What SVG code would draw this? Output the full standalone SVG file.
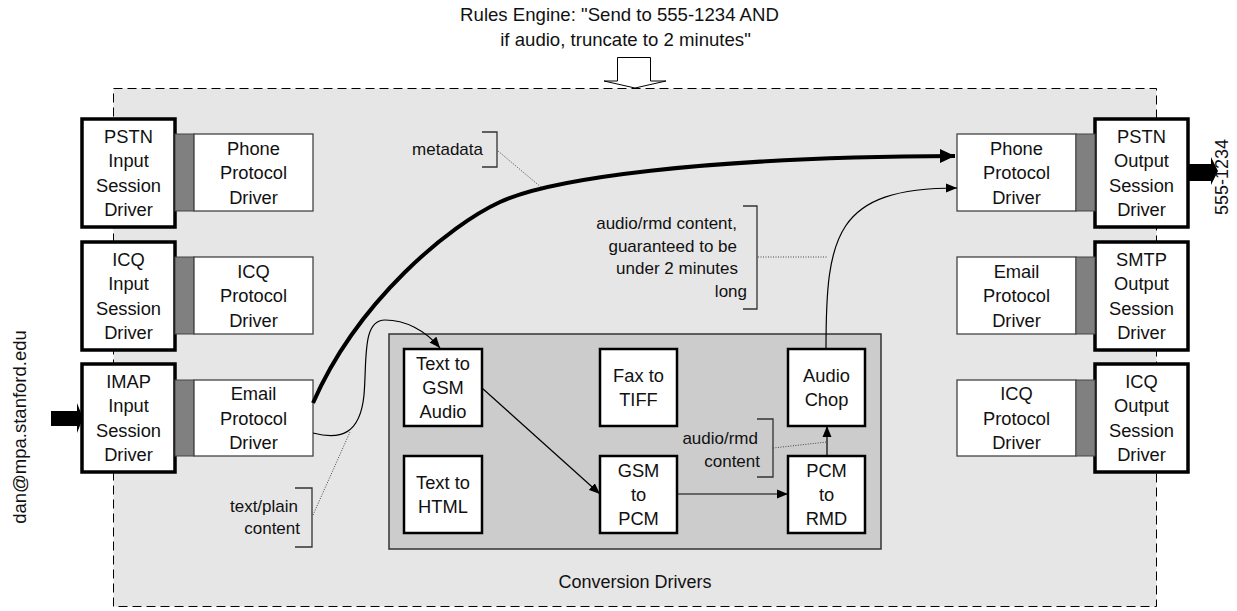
<svg xmlns="http://www.w3.org/2000/svg" width="1237" height="611" viewBox="0 0 1237 611">
<style>
text{font-family:"Liberation Sans",Arial,sans-serif;fill:#111}
.n{font-size:18.3px;text-anchor:middle}
.l{font-size:17px;text-anchor:end}
.sess{fill:#fff;stroke:#000;stroke-width:3.5}
.prot{fill:#fff;stroke:#444;stroke-width:1.3}
.gray{fill:#808080;stroke:#444;stroke-width:1}
.conv{fill:#fff;stroke:#000;stroke-width:2.5}
.thin{fill:none;stroke:#000;stroke-width:1.2}
.thick{fill:none;stroke:#000;stroke-width:4}
.dot{fill:none;stroke:#333;stroke-width:0.9;stroke-dasharray:1 1.5}
.br{fill:none;stroke:#333;stroke-width:1.3}
</style>
<defs>
<marker id="ah" markerUnits="userSpaceOnUse" markerWidth="12" markerHeight="10" refX="11" refY="5" orient="auto"><path d="M0,0.5 L11,5 L0,9.5 Z" fill="#000"/></marker>
<marker id="ahb" markerUnits="userSpaceOnUse" markerWidth="16" markerHeight="16" refX="15" refY="8" orient="auto"><path d="M0,1 L15,8 L0,15 Z" fill="#000"/></marker>
</defs>
<rect width="1237" height="611" fill="#fff"/>
<g id="title">
<text x="619.5" y="21" font-size="18.6" text-anchor="middle">Rules Engine: "Send to 555-1234 AND</text>
<text x="625.5" y="46" font-size="18.6" text-anchor="middle">if audio, truncate to 2 minutes"</text>
</g>
<g id="container">
<rect x="113.5" y="88.5" width="1043" height="518" fill="#e6e6e6" stroke="#000" stroke-width="1" stroke-dasharray="9 5"/>
</g>
<g id="rules-arrow">
<polygon points="617.5,57.5 650.5,57.5 650.5,81 666,81 635,88 604,81 617.5,81" fill="#fff" stroke="#000" stroke-width="1"/>
</g>
<g id="conversion-drivers">
<rect x="389" y="334" width="492" height="215" fill="#cccccc" stroke="#333" stroke-width="1.5"/>
<text x="635" y="588" font-size="18" text-anchor="middle">Conversion Drivers</text>
</g>
<g id="pstn-input">
<rect class="sess" x="82" y="119" width="93" height="108"/>
<text class="n" x="128.5" y="142.5">PSTN<tspan x="128.5" dy="24.5">Input</tspan><tspan x="128.5" dy="24.5">Session</tspan><tspan x="128.5" dy="24.5">Driver</tspan></text>
</g>
<g id="phone-protocol-in">
<rect class="gray" x="175" y="134" width="19" height="77"/>
<rect class="prot" x="194" y="134" width="119" height="77"/>
<text class="n" x="253.5" y="154.5">Phone<tspan x="253.5" dy="24.5">Protocol</tspan><tspan x="253.5" dy="24.5">Driver</tspan></text>
</g>
<g id="icq-input">
<rect class="sess" x="82" y="242" width="93" height="108"/>
<text class="n" x="128.5" y="265.5">ICQ<tspan x="128.5" dy="24.5">Input</tspan><tspan x="128.5" dy="24.5">Session</tspan><tspan x="128.5" dy="24.5">Driver</tspan></text>
</g>
<g id="icq-protocol-in">
<rect class="gray" x="175" y="257" width="19" height="77"/>
<rect class="prot" x="194" y="257" width="119" height="77"/>
<text class="n" x="253.5" y="277.5">ICQ<tspan x="253.5" dy="24.5">Protocol</tspan><tspan x="253.5" dy="24.5">Driver</tspan></text>
</g>
<g id="imap-input">
<rect class="sess" x="82" y="364" width="93" height="108"/>
<text class="n" x="128.5" y="387.5">IMAP<tspan x="128.5" dy="24.5">Input</tspan><tspan x="128.5" dy="24.5">Session</tspan><tspan x="128.5" dy="24.5">Driver</tspan></text>
</g>
<g id="email-protocol-in">
<rect class="gray" x="175" y="380" width="19" height="76"/>
<rect class="prot" x="194" y="380" width="119" height="76"/>
<text class="n" x="253.5" y="400">Email<tspan x="253.5" dy="24.5">Protocol</tspan><tspan x="253.5" dy="24.5">Driver</tspan></text>
</g>
<g id="pstn-output">
<rect class="sess" x="1095" y="119" width="93" height="108"/>
<text class="n" x="1141.5" y="142.5">PSTN<tspan x="1141.5" dy="24.5">Output</tspan><tspan x="1141.5" dy="24.5">Session</tspan><tspan x="1141.5" dy="24.5">Driver</tspan></text>
</g>
<g id="phone-protocol-out">
<rect class="prot" x="957" y="134" width="119" height="77"/>
<rect class="gray" x="1076" y="134" width="19" height="77"/>
<text class="n" x="1016.5" y="154.5">Phone<tspan x="1016.5" dy="24.5">Protocol</tspan><tspan x="1016.5" dy="24.5">Driver</tspan></text>
</g>
<g id="smtp-output">
<rect class="sess" x="1095" y="242" width="93" height="108"/>
<text class="n" x="1141.5" y="265.5">SMTP<tspan x="1141.5" dy="24.5">Output</tspan><tspan x="1141.5" dy="24.5">Session</tspan><tspan x="1141.5" dy="24.5">Driver</tspan></text>
</g>
<g id="email-protocol-out">
<rect class="prot" x="957" y="257" width="119" height="77"/>
<rect class="gray" x="1076" y="257" width="19" height="77"/>
<text class="n" x="1016.5" y="277.5">Email<tspan x="1016.5" dy="24.5">Protocol</tspan><tspan x="1016.5" dy="24.5">Driver</tspan></text>
</g>
<g id="icq-output">
<rect class="sess" x="1095" y="364" width="93" height="108"/>
<text class="n" x="1141.5" y="387.5">ICQ<tspan x="1141.5" dy="24.5">Output</tspan><tspan x="1141.5" dy="24.5">Session</tspan><tspan x="1141.5" dy="24.5">Driver</tspan></text>
</g>
<g id="icq-protocol-out">
<rect class="prot" x="957" y="380" width="119" height="76"/>
<rect class="gray" x="1076" y="380" width="19" height="76"/>
<text class="n" x="1016.5" y="400">ICQ<tspan x="1016.5" dy="24.5">Protocol</tspan><tspan x="1016.5" dy="24.5">Driver</tspan></text>
</g>
<g id="text-to-gsm">
<rect class="conv" x="404" y="349" width="78" height="77"/>
<text class="n" x="443" y="370">Text to<tspan x="443" dy="24">GSM</tspan><tspan x="443" dy="24">Audio</tspan></text>
</g>
<g id="fax-to-tiff">
<rect class="conv" x="600" y="349" width="77" height="77"/>
<text class="n" x="638.5" y="382">Fax to<tspan x="638.5" dy="24">TIFF</tspan></text>
</g>
<g id="audio-chop">
<rect class="conv" x="788" y="349" width="77" height="77"/>
<text class="n" x="826.5" y="382">Audio<tspan x="826.5" dy="24">Chop</tspan></text>
</g>
<g id="text-to-html">
<rect class="conv" x="404" y="456" width="78" height="77"/>
<text class="n" x="443" y="489">Text to<tspan x="443" dy="24">HTML</tspan></text>
</g>
<g id="gsm-to-pcm">
<rect class="conv" x="600" y="456" width="77" height="77"/>
<text class="n" x="638.5" y="477">GSM<tspan x="638.5" dy="24">to</tspan><tspan x="638.5" dy="24">PCM</tspan></text>
</g>
<g id="pcm-to-rmd">
<rect class="conv" x="788" y="456" width="77" height="77"/>
<text class="n" x="826.5" y="477">PCM<tspan x="826.5" dy="24">to</tspan><tspan x="826.5" dy="24">RMD</tspan></text>
</g>
<g id="connectors">
<polygon points="51,411 77,411 77,403 83,418 77,433 77,426 51,426" fill="#000"/>
<polygon points="1188,164 1211,164 1211,157 1218,171 1211,185 1211,181 1188,181" fill="#000"/>
<path class="thick" d="M313,403 C358,300 450,225 500,202 S700,157 955,156" marker-end="url(#ahb)"/>
<path class="thin" d="M313,433 C340,440 360,435 364,395 C367,360 362,320 385,320 C405,320 425,330 440,348" marker-end="url(#ah)"/>
<path class="thin" d="M482,388 L600,494" marker-end="url(#ah)"/>
<path class="thin" d="M677,494 L788,494" marker-end="url(#ah)"/>
<path class="thin" d="M827,456 L827,426" marker-end="url(#ah)"/>
<path class="thin" d="M826,349 C826,235 835,188 957,188" marker-end="url(#ah)"/>
</g>
<g id="labels">
<text x="26" y="427" font-size="18.5" text-anchor="middle" transform="rotate(-90 26 427)">dan@mpa.stanford.edu</text>
<text x="1228" y="177" font-size="18" text-anchor="middle" transform="rotate(-90 1228 177)">555-1234</text>
<path class="br" d="M482,132 H497 V167 H482"/>
<text class="l" x="483" y="155">metadata</text>
<path class="dot" d="M498,151 L542,188"/>
<path class="br" d="M743,206 H757 V309 H743"/>
<text class="l" x="737" y="229">audio/rmd content,</text>
<text class="l" x="737" y="252">guaranteed to be</text>
<text class="l" x="738" y="274">under 2 minutes</text>
<text class="l" x="747" y="297">long</text>
<path class="dot" d="M758,257 L828,257"/>
<path class="br" d="M295,488 H312 V547 H295"/>
<text class="l" x="298" y="512">text/plain</text>
<text class="l" x="300" y="534">content</text>
<path class="dot" d="M313,515 L350,432"/>
<path class="br" d="M757,419 H773 V477 H757"/>
<text class="l" x="758" y="444">audio/rmd</text>
<text class="l" x="760" y="467">content</text>
<path class="dot" d="M773,448 L827,442"/>
</g>
</svg>
